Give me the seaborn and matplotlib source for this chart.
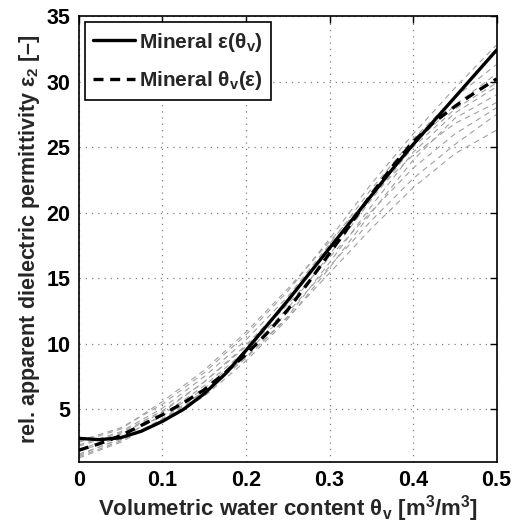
import numpy as np
import pandas as pd
import matplotlib
matplotlib.use("Agg")
import matplotlib.pyplot as plt
import seaborn as sns

# Volumetric water content grid for the two model curves
theta_fine = [0.000, 0.025, 0.050, 0.075, 0.100, 0.125, 0.150, 0.175, 0.200, 0.225,
              0.250, 0.275, 0.300, 0.325, 0.350, 0.375, 0.400, 0.425, 0.450, 0.475, 0.500]

# Mineral model eps(theta_v)
eps_of_theta = [2.8, 2.7, 2.85, 3.35, 4.1, 5.0, 6.2, 7.7, 9.5, 11.4,
                13.3, 15.3, 17.3, 19.3, 21.3, 23.3, 25.2, 27.0, 28.8, 30.6, 32.4]

# Mineral model theta_v(eps), shown in the same axes
theta_of_eps = [1.9, 2.4, 3.0, 3.8, 4.6, 5.5, 6.5, 7.8, 9.2, 10.8,
                12.6, 14.7, 16.9, 19.1, 21.4, 23.5, 25.4, 26.9, 28.1, 29.2, 30.2]

# Individual sample calibrations
theta_coarse = [0.00, 0.05, 0.10, 0.15, 0.20, 0.25, 0.30, 0.35, 0.40, 0.45, 0.50]
sample_eps = {
    "s1":  [2.6, 3.6, 5.4, 7.8, 10.7, 14.0, 18.0, 22.2, 26.0, 29.5, 32.8],
    "s2":  [2.3, 3.3, 5.1, 7.5, 10.3, 13.6, 17.6, 21.8, 25.6, 28.8, 31.3],
    "s3":  [1.9, 3.1, 4.8, 7.1, 9.9, 13.2, 17.2, 21.4, 25.2, 28.2, 30.6],
    "s4":  [1.5, 2.8, 4.6, 6.8, 9.5, 12.7, 16.8, 21.0, 25.0, 27.9, 29.9],
    "s5":  [1.3, 2.5, 4.2, 6.3, 8.9, 12.1, 16.2, 20.5, 24.6, 27.6, 29.6],
    "s6":  [2.2, 3.2, 4.9, 7.1, 9.8, 13.0, 16.6, 20.1, 23.4, 26.0, 28.0],
    "s7":  [1.8, 2.9, 4.5, 6.6, 9.3, 12.4, 15.9, 19.4, 22.6, 25.2, 27.5],
    "s8":  [1.4, 2.6, 4.3, 6.4, 9.0, 12.0, 15.4, 18.8, 21.9, 24.5, 26.3],
    "s9":  [2.5, 3.5, 5.6, 8.0, 10.9, 14.2, 17.8, 21.3, 24.4, 26.8, 28.4],
    "s10": [1.6, 2.7, 4.0, 6.0, 8.7, 11.9, 15.8, 20.0, 24.0, 27.2, 29.0],
}

x_ticks = [0, 0.1, 0.2, 0.3, 0.4, 0.5]
x_ticklabels = ["0", "0.1", "0.2", "0.3", "0.4", "0.5"]
y_ticks = [5, 10, 15, 20, 25, 30, 35]

sns.set_style("white")
plt.rcParams["font.family"] = ["Liberation Sans", "DejaVu Sans"]
plt.rcParams["font.weight"] = "bold"
plt.rcParams["mathtext.fontset"] = "custom"
plt.rcParams["mathtext.rm"] = "Liberation Sans:bold"
plt.rcParams["mathtext.bf"] = "Liberation Sans:bold"
plt.rcParams["mathtext.it"] = "Liberation Sans:bold"

fig = plt.figure(figsize=(5.12, 5.31), dpi=100)
ax = fig.add_axes([0.154, 0.130, 0.816, 0.840])

samples = pd.DataFrame(
    [(name, t, e) for name, vals in sample_eps.items() for t, e in zip(theta_coarse, vals)],
    columns=["sample", "theta", "eps"],
)
for name, grp in samples.groupby("sample"):
    sns.lineplot(data=grp, x="theta", y="eps", ax=ax, color="#a0a0a0", lw=0.8,
                 linestyle=(0, (5, 4)), estimator=None, sort=False, legend=False)

curves = pd.DataFrame({"theta": theta_fine, "eps": eps_of_theta, "inv": theta_of_eps})
sns.lineplot(data=curves, x="theta", y="eps", ax=ax, color="black", lw=2.4,
             estimator=None, legend=False)
sns.lineplot(data=curves, x="theta", y="inv", ax=ax, color="black", lw=2.4,
             linestyle=(0, (3, 2)), estimator=None, legend=False)

ax.set_xlim(0, 0.5)
ax.set_ylim(1, 35)
ax.set_xticks(x_ticks)
ax.set_xticklabels(x_ticklabels)
ax.set_yticks(y_ticks)
ax.grid(True, linestyle=(0, (1, 4)), color="#808080", lw=0.9)
ax.tick_params(direction="in", length=5, width=1, top=True, right=True,
               labelsize=15.5, pad=6, colors="black")
for lab in ax.get_xticklabels() + ax.get_yticklabels():
    lab.set_fontweight("bold")
for sp in ax.spines.values():
    sp.set_color("black")
    sp.set_linewidth(1.2)

ax.set_xlabel(r"Volumetric water content θ$_\mathrm{v}$ [m$^\mathrm{3}$/m$^\mathrm{3}$]",
              fontsize=16, fontweight="bold", labelpad=1)
ax.set_ylabel(r"rel. apparent dielectric permittivity ε$_\mathrm{2}$ [–]",
              fontsize=15.5, fontweight="bold", labelpad=3)

lines = ax.get_lines()
solid, dashed = lines[-2], lines[-1]
leg = ax.legend([solid, dashed],
                [r"Mineral ε(θ$_\mathrm{v}$)", r"Mineral θ$_\mathrm{v}$(ε)"],
                loc="upper left", fontsize=15, frameon=True, fancybox=False,
                framealpha=1, edgecolor="black", handlelength=2.0,
                handletextpad=0.2, borderaxespad=0.3, borderpad=0.4,
                labelspacing=0.75)
leg.get_frame().set_linewidth(1.2)
for t in leg.get_texts():
    t.set_fontweight("bold")

fig.savefig("out.png", dpi=100)
